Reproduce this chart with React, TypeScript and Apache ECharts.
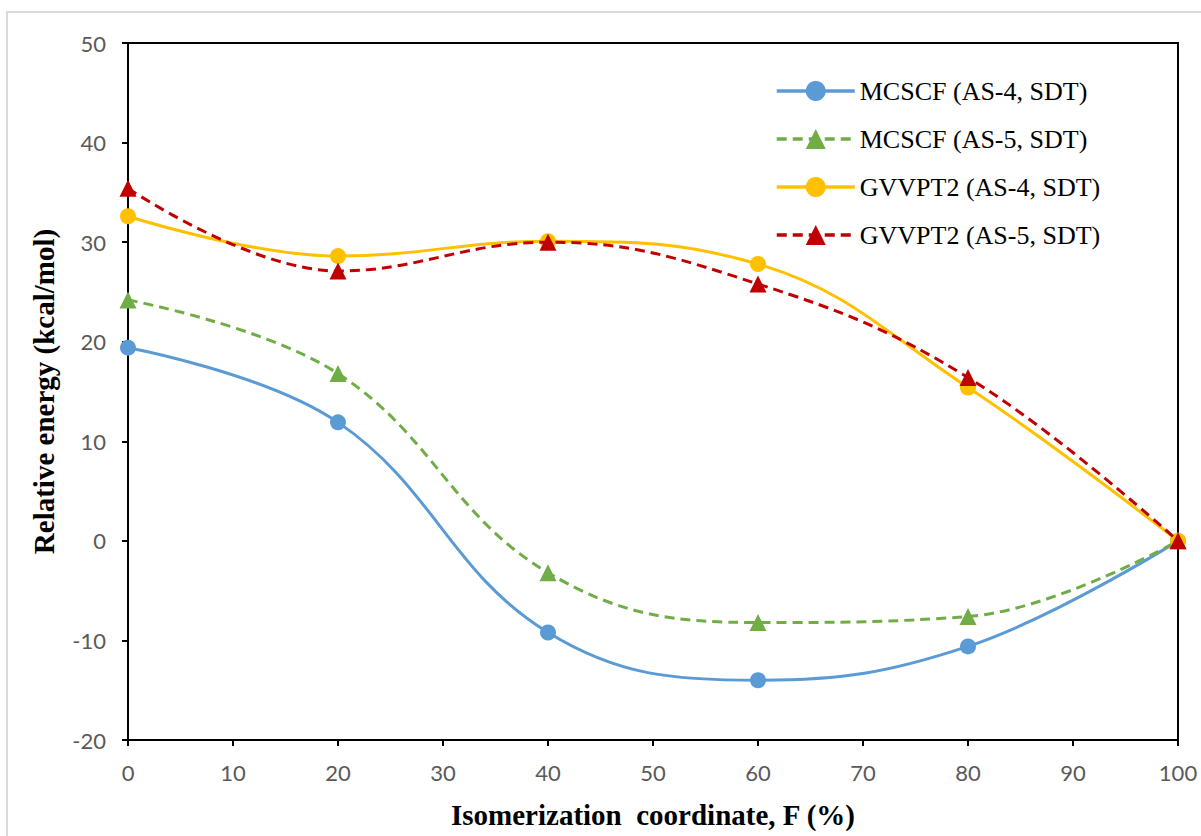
import React, { useEffect, useRef } from "react";
import * as echarts from "echarts";

const xValues = [0, 20, 40, 60, 80, 100];
const mcscfAS4 = [19.4, 11.9, -9.2, -14.0, -10.6, 0];
const mcscfAS5 = [24.2, 16.8, -3.2, -8.2, -7.6, 0];
const gvvpt2AS4 = [32.6, 28.6, 30.1, 27.8, 15.4, 0];
const gvvpt2AS5 = [35.4, 27.1, 30.0, 25.8, 16.4, 0];
const seriesNames = [
  "MCSCF (AS-4, SDT)",
  "MCSCF (AS-5, SDT)",
  "GVVPT2 (AS-4, SDT)",
  "GVVPT2 (AS-5, SDT)",
];

export default function App() {
  const ref = useRef<HTMLDivElement>(null);
  useEffect(() => {
    if (!ref.current) return;
    const chart = echarts.init(ref.current, null, { renderer: "svg" });
    const pairs = (ys: number[]) => xValues.map((x, i) => [x, ys[i]]);
    const mk = (
      name: string,
      ys: number[],
      color: string,
      symbol: string,
      dashed: boolean,
      z: number
    ) => ({
      name,
      type: "line",
      data: pairs(ys),
      smooth: 0.4,
      symbol,
      symbolSize: symbol === "circle" ? 16 : 17,
      z,
      itemStyle: { color },
      lineStyle: { color, width: 3, type: dashed ? [10, 6] : "solid" },
    });
    chart.setOption({
      animation: false,
      backgroundColor: "#ffffff",
      graphic: [
        {
          type: "rect",
          shape: { x: 7, y: 12, width: 1210, height: 840 },
          style: { fill: "none", stroke: "#d9d9d9", lineWidth: 2 },
          silent: true,
        },
      ],
      grid: {
        left: 128,
        right: 23,
        top: 43,
        bottom: 96,
        show: true,
        borderColor: "#000",
        borderWidth: 2,
      },
      legend: {
        orient: "vertical",
        left: 775,
        top: 78,
        padding: 0,
        itemWidth: 78,
        itemHeight: 25,
        itemGap: 22,
        lineStyle: { width: 3.5 },
        textStyle: {
          fontFamily: "Liberation Serif",
          fontSize: 26,
          lineHeight: 26,
          color: "#000",
          padding: [0, 0, 0, 0],
        },
        data: seriesNames,
      },
      xAxis: {
        type: "value",
        min: 0,
        max: 100,
        interval: 10,
        name: "Isomerization  coordinate, F (%)",
        nameLocation: "middle",
        nameGap: 60,
        nameTextStyle: {
          fontFamily: "Liberation Serif",
          fontWeight: "bold",
          fontSize: 29,
          color: "#000",
        },
        axisLine: { show: true, onZero: false, lineStyle: { color: "#000", width: 2 } },
        axisTick: { show: true, length: 6, lineStyle: { color: "#000", width: 2 } },
        axisLabel: {
          fontFamily: "Lato",
          fontSize: 22,
          color: "#595959",
          margin: 21,
        },
        splitLine: { show: false },
      },
      yAxis: {
        type: "value",
        min: -20,
        max: 50,
        interval: 10,
        name: "Relative energy (kcal/mol)",
        nameLocation: "middle",
        nameGap: 70,
        nameTextStyle: {
          fontFamily: "Liberation Serif",
          fontWeight: "bold",
          fontSize: 29,
          color: "#000",
        },
        axisLine: { show: true, onZero: false, lineStyle: { color: "#000", width: 2 } },
        axisTick: { show: true, length: 6, lineStyle: { color: "#000", width: 2 } },
        axisLabel: {
          fontFamily: "Lato",
          fontSize: 22,
          color: "#595959",
          margin: 22,
        },
        splitLine: { show: false },
      },
      series: [
        mk(seriesNames[0], mcscfAS4, "#5B9BD5", "circle", false, 3),
        mk(seriesNames[1], mcscfAS5, "#70AD47", "triangle", true, 4),
        mk(seriesNames[2], gvvpt2AS4, "#FFC000", "circle", false, 5),
        mk(seriesNames[3], gvvpt2AS5, "#C00000", "triangle", true, 6),
      ],
    });
    return () => chart.dispose();
  }, []);
  return (
    <div
      ref={ref}
      style={{ position: "fixed", left: 0, top: 0, width: 1201, height: 836 }}
    />
  );
}
